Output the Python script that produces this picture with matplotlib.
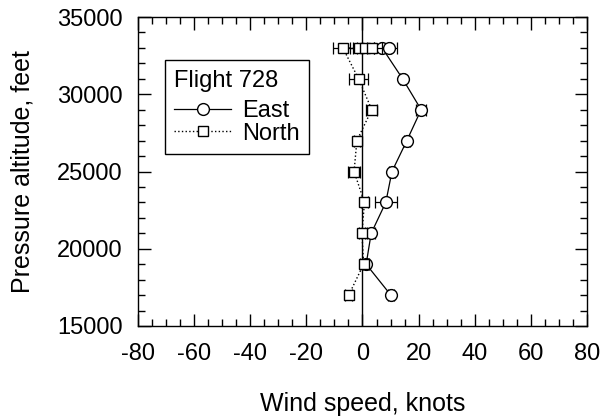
import matplotlib
matplotlib.use("Agg")
import matplotlib.pyplot as plt
from matplotlib.ticker import MultipleLocator

plt.rcParams['font.family'] = ['Liberation Sans', 'DejaVu Sans']
plt.rcParams['axes.unicode_minus'] = False

altitude_east = [17000, 19000, 21000, 23000, 25000, 27000, 29000, 31000, 33000, 33000]
east_speed = [10.1, 1.3, 3.1, 8.3, 10.5, 15.8, 20.9, 14.3, 7.0, 9.3]
east_err = [1.0, 1.0, 1.5, 4.0, 1.0, 1.0, 1.8, 1.0, 3.0, 3.0]

altitude_north = [17000, 19000, 21000, 23000, 25000, 27000, 29000, 31000, 33000, 33000, 33000, 33000]
north_speed = [-4.9, 0.4, -0.2, 0.7, -3.0, -2.0, 3.3, -1.4, -7.0, -1.4, 1.0, 3.3]
north_err = [1.2, 1.2, 1.2, 1.2, 2.1, 1.0, 1.9, 3.3, 3.5, 3.0, 3.0, 3.5]

fig = plt.figure(figsize=(6.01, 4.18), dpi=100)
ax = fig.add_axes([0.2296, 0.2201, 0.7471, 0.7392])

ax.axvline(0, color='black', lw=1.0, zorder=1)

ax.errorbar(east_speed, altitude_east, xerr=east_err, fmt='-o', color='black',
            mfc='white', mec='black', ms=8.5, lw=0.9, elinewidth=0.9, capsize=4.5,
            capthick=0.9, label='East', zorder=3)
ax.errorbar(north_speed, altitude_north, xerr=north_err, fmt=':s', color='black',
            mfc='white', mec='black', ms=7.5, lw=1.0, elinewidth=0.9, capsize=4.5,
            capthick=0.9, label='North', zorder=4)

ax.set_xlim(-80, 80)
ax.set_ylim(15000, 35000)
ax.xaxis.set_major_locator(MultipleLocator(20))
ax.xaxis.set_minor_locator(MultipleLocator(5))
ax.yaxis.set_major_locator(MultipleLocator(5000))
ax.yaxis.set_minor_locator(MultipleLocator(1000))
ax.tick_params(which='both', direction='in', top=True, right=True, labelsize=17, width=1.0)
ax.tick_params(which='major', length=9)
ax.tick_params(which='minor', length=5)
ax.tick_params(axis='x', which='major', pad=12)
ax.tick_params(axis='y', which='major', pad=11)
for s in ax.spines.values():
    s.set_linewidth(1.0)

ax.set_xlabel('Wind speed, knots', fontsize=18, labelpad=20)
ax.set_ylabel('Pressure altitude, feet', fontsize=18, labelpad=16)

handles, labels = ax.get_legend_handles_labels()
handles = [h[0] for h in handles]
leg = ax.legend(handles, labels, title='Flight 728', loc='upper left',
                bbox_to_anchor=(0.06, 0.86), fontsize=17, title_fontsize=17,
                frameon=True, fancybox=False, edgecolor='black', framealpha=1,
                handlelength=2.4, handletextpad=0.45, borderpad=0.4, labelspacing=0.03,
                borderaxespad=0)
leg.get_frame().set_linewidth(1.0)
leg._legend_box.align = 'left'
leg._legend_box.sep = 6

fig.savefig('out.png', dpi=100)
